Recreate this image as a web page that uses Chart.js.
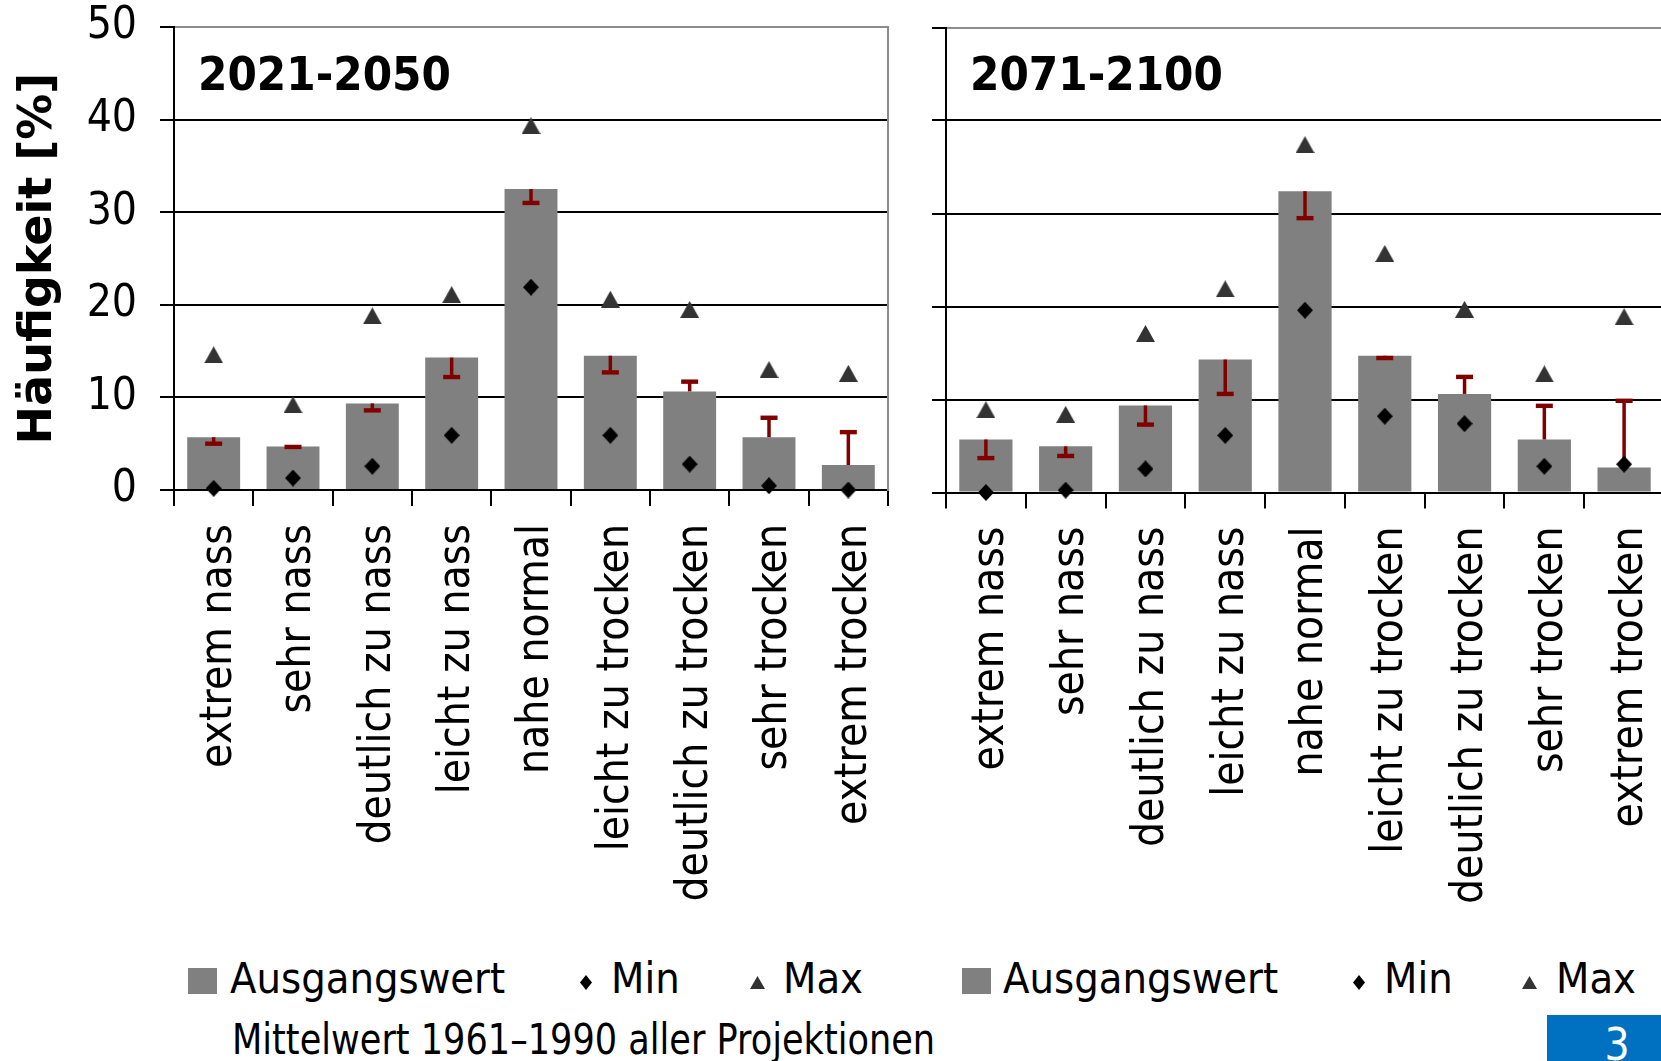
<!DOCTYPE html>
<html lang="de">
<head>
<meta charset="utf-8">
<title>Häufigkeit der Feuchteklassen</title>
<script src="https://cdn.jsdelivr.net/npm/chart.js@4.4.1/dist/chart.umd.min.js"></script>
<style>
  html, body { margin: 0; padding: 0; background: #fff; }
  body { width: 1661px; height: 1061px; overflow: hidden; position: relative;
         font-family: "DejaVu Sans Condensed", "DejaVu Sans", sans-serif; color: #000; }
  canvas { position: absolute; top: 0; }
  #cLeft { left: 0; }
  #cRight { left: 890px; }
  .txt { position: absolute; white-space: nowrap; }
  .period { font-size: 47px; line-height: 47px; font-weight: bold; top: 50px; }
  .leg { font-size: 43px; line-height: 43px; top: 957px; }
  .note { font-size: 42px; line-height: 42px; top: 1019px; left: 232px;
          transform: scaleX(0.93); transform-origin: 0 0; }
  .sym { position: absolute; }
  .sq { background: #808080; width: 29px; height: 26px; top: 968px; }
  .dia { background: #000; width: 12px; height: 15px; top: 975px;
         clip-path: polygon(50% 0, 100% 50%, 50% 100%, 0 50%); }
  .tri { background: #333; width: 15px; height: 13px; top: 976px;
         clip-path: polygon(50% 0, 100% 100%, 0 100%); }
  #page { position: absolute; left: 1547px; top: 1015px; width: 114px; height: 46px;
          background: #0070c0; overflow: hidden; }
  #page span { position: absolute; left: 70px; top: 8px; font-size: 44px; line-height: 44px;
               color: #fff; transform: translateX(-50%); }
</style>
</head>
<body>
<canvas id="cLeft" width="900" height="940"></canvas>
<canvas id="cRight" width="784" height="940"></canvas>

<div class="txt period" style="left:198px">2021-2050</div>
<div class="txt period" style="left:970px">2071-2100</div>

<div class="sym sq" style="left:188px"></div>
<div class="txt leg" style="left:230px">Ausgangswert</div>
<div class="sym dia" style="left:580px"></div>
<div class="txt leg" style="left:611px">Min</div>
<div class="sym tri" style="left:750px"></div>
<div class="txt leg" style="left:783px">Max</div>

<div class="sym sq" style="left:962px"></div>
<div class="txt leg" style="left:1003px">Ausgangswert</div>
<div class="sym dia" style="left:1353px"></div>
<div class="txt leg" style="left:1384px">Min</div>
<div class="sym tri" style="left:1522px"></div>
<div class="txt leg" style="left:1556px">Max</div>

<div class="txt note">Mittelwert 1961–1990 aller Projektionen</div>
<div id="page"><span>3</span></div>

<script>
// Feuchteklassen (Kategorien der x-Achse)
const klassen = ['extrem nass', 'sehr nass', 'deutlich zu nass', 'leicht zu nass', 'nahe normal',
                 'leicht zu trocken', 'deutlich zu trocken', 'sehr trocken', 'extrem trocken'];

// Achsenbeschriftung der y-Achse
const yTicks = [0, 10, 20, 30, 40, 50];

// Zeitraum 2021-2050 (Häufigkeit in %)
const ausgang2050 = [5.7, 4.7, 9.35, 14.3, 32.5, 14.5, 10.65, 5.7, 2.7];
const mittel2050  = [5.0, 4.65, 8.6, 12.2, 31.0, 12.7, 11.7, 7.8, 6.25];
const min2050     = [0.18, 1.29, 2.57, 5.9, 21.9, 5.9, 2.79, 0.46, 0.0];
const max2050     = [14.6, 9.2, 18.8, 21.1, 39.35, 20.6, 19.5, 13.0, 12.6];

// Zeitraum 2071-2100 (Häufigkeit in %)
const ausgang2100 = [5.7, 4.96, 9.36, 14.3, 32.4, 14.7, 10.6, 5.7, 2.7];
const mittel2100  = [3.7, 3.93, 7.3, 10.6, 29.5, 14.46, 12.43, 9.32, 9.86];
const min2100     = [0.0, 0.25, 2.54, 6.14, 19.6, 8.2, 7.4, 2.82, 3.04];
const max2100     = [8.9, 8.4, 17.1, 21.9, 37.4, 25.7, 19.7, 12.75, 18.9];

const FONT = '"DejaVu Sans Condensed", "DejaVu Sans", sans-serif';
const GRID_GREY = '#8c8c8c';

// marker images, centred in their own box
function marker(kind) {
  const c = document.createElement('canvas');
  const g = c.getContext('2d');
  if (kind === 'diamond') {
    c.width = 16; c.height = 17;
    g.fillStyle = '#000';
    g.beginPath(); g.moveTo(8, 0); g.lineTo(16, 8.5); g.lineTo(8, 17); g.lineTo(0, 8.5); g.closePath(); g.fill();
  } else {
    c.width = 19; c.height = 17;
    g.fillStyle = '#333333';
    g.beginPath(); g.moveTo(9.5, 0); g.lineTo(19, 17); g.lineTo(0, 17); g.closePath(); g.fill();
  }
  return c;
}
const diamondImg = marker('diamond');
const triangleImg = marker('triangle');

// one-sided error bars from the bar top to the projected mean, capped at the end
const errorBars = {
  id: 'errorBars',
  afterDatasetDraw(chart, args, opts) {
    if (args.index !== 0) return;
    const ends = opts.ends;
    const y = chart.scales.y;
    const ctx = chart.ctx;
    ctx.save();
    ctx.strokeStyle = '#800000';
    ctx.fillStyle = '#800000';
    ctx.lineWidth = 3.5;
    args.meta.data.forEach((bar, i) => {
      const yEnd = y.getPixelForValue(ends[i]);
      ctx.beginPath();
      ctx.moveTo(bar.x, bar.y);
      ctx.lineTo(bar.x, yEnd);
      ctx.stroke();
      ctx.fillRect(bar.x - 8.5, yEnd - 2.2, 17, 4.4);
    });
    ctx.restore();
  }
};

function buildChart(canvasId, ausgang, mittel, mins, maxs, cfg) {
  const scales = {
    x: {
      type: 'category',
      offset: true,
      grid: { offset: true, drawOnChartArea: false, drawTicks: true, tickLength: 16,
              color: '#000', lineWidth: 2 },
      border: { color: '#000', width: 2 },
      ticks: { autoSkip: false, minRotation: 90, maxRotation: 90, padding: 18,
               labelOffset: cfg.labelOffset, color: '#000', font: { family: FONT, size: 44 } },
      afterFit(s) { s.height = cfg.xHeight; s.paddingLeft = 0; s.paddingRight = 0; }
    },
    y: {
      type: 'linear',
      min: yTicks[0], max: yTicks[yTicks.length - 1],
      afterBuildTicks(s) { s.ticks = yTicks.map(v => ({ value: v })); },
      ticks: { display: cfg.yLabels, padding: 23, color: '#000', font: { family: FONT, size: 44 } },
      grid: { color: c => (c.tick && c.tick.value === 50 ? GRID_GREY : '#000'),
              tickColor: '#000', lineWidth: 2, tickLength: 14 },
      border: { color: '#000', width: 2 },
      title: { display: cfg.yLabels, text: 'Häufigkeit [%]', color: '#000',
               font: { family: '"DejaVu Sans", sans-serif', weight: 'bold', size: 46 },
               padding: { top: 11, bottom: 0 } },
      afterFit(s) { s.width = cfg.yWidth; s.paddingTop = 0; s.paddingBottom = 0; }
    }
  };
  if (cfg.rightBorder) {
    scales.y2 = {
      type: 'linear', position: 'right', display: true,
      grid: { display: false, drawTicks: false },
      ticks: { display: false },
      border: { color: GRID_GREY, width: 2 },
      afterFit(s) { s.width = 0; s.paddingTop = 0; s.paddingBottom = 0; }
    };
  }
  return new Chart(document.getElementById(canvasId), {
    type: 'bar',
    data: {
      labels: klassen,
      datasets: [
        { type: 'bar', label: 'Ausgangswert', data: ausgang, backgroundColor: '#808080',
          borderWidth: 0, categoryPercentage: 1, barPercentage: 0.667, order: 2 },
        { type: 'line', label: 'Min', data: mins, showLine: false, pointStyle: diamondImg,
          pointRadius: 8, pointHoverRadius: 8, clip: false, order: 1 },
        { type: 'line', label: 'Max', data: maxs, showLine: false, pointStyle: triangleImg,
          pointRadius: 9, pointHoverRadius: 9, clip: false, order: 0 }
      ]
    },
    options: {
      responsive: false,
      animation: false,
      devicePixelRatio: 1,
      layout: { padding: cfg.padding },
      plugins: { legend: { display: false }, tooltip: { enabled: false },
                 errorBars: { ends: mittel } },
      scales
    },
    plugins: [errorBars]
  });
}

buildChart('cLeft', ausgang2050, mittel2050, min2050, max2050, {
  yLabels: true, yWidth: 174, xHeight: 450, labelOffset: 6, rightBorder: true,
  padding: { top: 27, right: 12, bottom: 0, left: 0 }
});
buildChart('cRight', ausgang2100, mittel2100, min2100, max2100, {
  yLabels: false, yWidth: 56, xHeight: 447.5, labelOffset: 6, rightBorder: false,
  padding: { top: 27.5, right: 0, bottom: 0, left: 0 }
});
</script>
</body>
</html>
